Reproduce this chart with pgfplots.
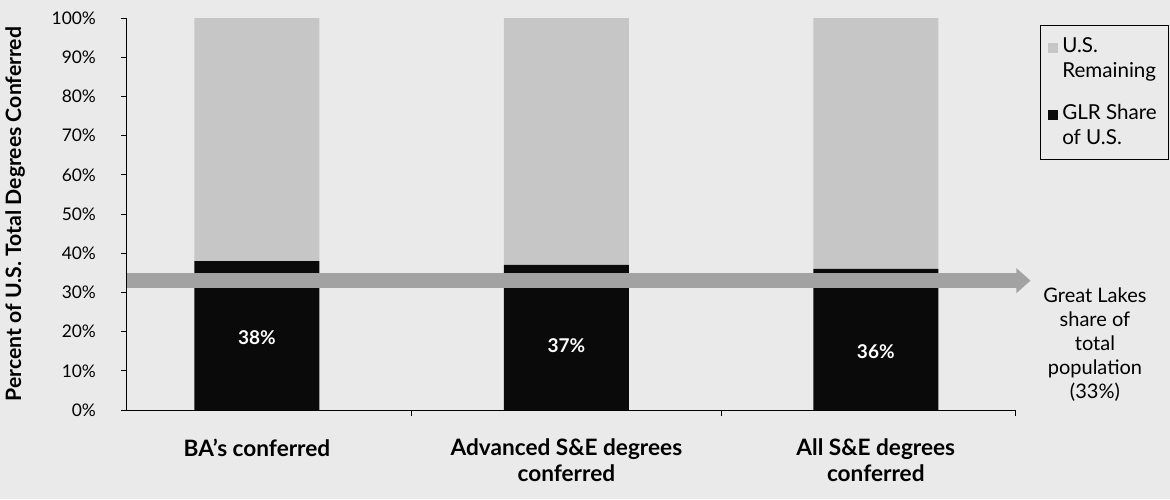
\documentclass[border=0pt]{standalone}
\usepackage{pgfplots}
\pgfplotsset{compat=1.18}
\usepackage{fontspec}
\setmainfont{Lato}
\usetikzlibrary{arrows.meta}
\definecolor{bg}{HTML}{EAEAEA}
\definecolor{rem}{HTML}{C6C6C6}
\definecolor{arr}{HTML}{A2A2A2}
\definecolor{glr}{HTML}{0A0A0A}
\begin{document}
\begin{tikzpicture}
\fill[bg] (-63.5pt,-44.5pt) rectangle (521.5pt,205pt);
\begin{axis}[
  at={(0,0)}, anchor=south west,
  scale only axis, width=444pt, height=196pt,
  xmin=-0.42, xmax=2.45, ymin=0, ymax=100,
  ybar stacked, bar width=62.5pt,
  axis x line=bottom, axis y line=left,
  axis line style={-, black, line width=0.5pt},
  tick align=outside, major tick length=3pt,
  tick style={black, line width=0.5pt},
  ytick={0,10,...,100},
  yticklabel={\pgfmathprintnumber{\tick}\%},
  yticklabel style={font=\fontsize{8.7}{10}\selectfont, xshift=-9pt},
  /pgf/number format/assume math mode=true,
  xtick={0.5,1.5,2.45}, xticklabels={},
  extra x ticks={0,1,2},
  extra x tick labels={BA's conferred, Advanced S\&E degrees\\conferred, All S\&E degrees\\conferred},
  extra x tick style={major tick length=0pt, tick style={draw=none},
     xticklabel style={align=center, anchor=north, yshift=-11pt, font=\bfseries\fontsize{11.3}{13}\selectfont}},
  every axis y label/.style={at={(axis description cs:-0.126,0.5)}, rotate=90, anchor=center, font=\bfseries\fontsize{10.6}{12}\selectfont},
  ylabel={Percent of U.S. Total Degrees Conferred},
  legend cell align=left,
  reverse legend,
  legend style={at={(1.028,0.982)}, anchor=north west, draw=black, line width=0.4pt, fill=none,
    font=\fontsize{10.3}{12.5}\selectfont, cells={align=left}, row sep=8pt, inner sep=4pt},
  legend image code/.code={\fill[#1,draw=none] (0.5pt,3pt) rectangle (5.5pt,8pt);},
  clip=false,
]
\addplot[fill=glr, draw=none] coordinates {(0,38) (1,37) (2,36)};
\addlegendentry{GLR Share\\of U.S.}
\addplot[fill=rem, draw=none] coordinates {(0,62) (1,63) (2,64)};
\addlegendentry{U.S.\\Remaining}
\end{axis}
\begin{axis}[
  at={(0,0)}, anchor=south west,
  scale only axis, width=444pt, height=196pt,
  xmin=-0.42, xmax=2.45, ymin=0, ymax=100,
  hide axis, clip=false,
]
\addplot[arr, line width=7.5pt, -{Triangle[width=12pt,length=7pt]}] coordinates {(-0.42,33) (2.5,33)};
\node[white, font=\bfseries\fontsize{9.5}{11}\selectfont] at (axis cs:0,18.5) {38\%};
\node[white, font=\bfseries\fontsize{9.5}{11}\selectfont] at (axis cs:1,16.5) {37\%};
\node[white, font=\bfseries\fontsize{9.5}{11}\selectfont] at (axis cs:2,15) {36\%};
\node[align=center, font=\fontsize{10}{12}\selectfont, anchor=center] at (axis description cs:1.09,0.166)
  {Great Lakes\\share of\\total\\population\\(33\%)};
\end{axis}
\pgfresetboundingbox
\useasboundingbox (-63.5pt,-44.5pt) rectangle (521.5pt,205pt);
\end{tikzpicture}
\end{document}
